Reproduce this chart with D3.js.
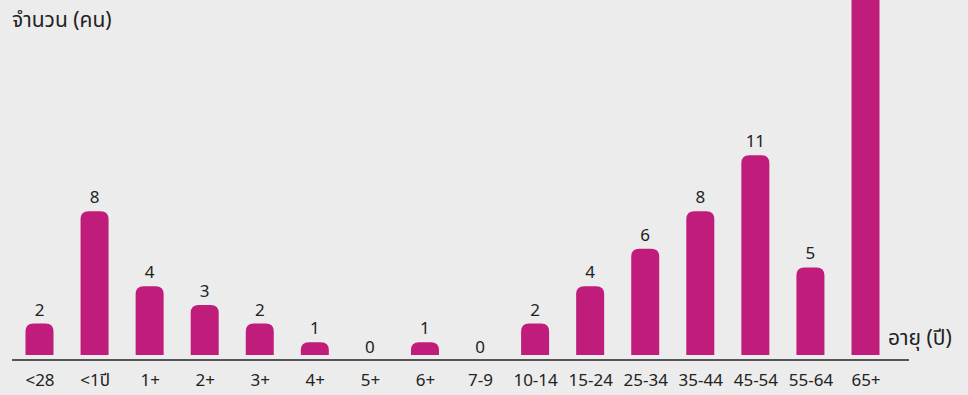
<!DOCTYPE html>
<html>
<head>
<meta charset="utf-8">
<script src="https://cdn.jsdelivr.net/npm/d3@7"></script>
<style>
  body { margin: 0; background: #ebeceb; }
  svg { display: block; }
  text { font-family: "Noto Sans Thai", "Noto Sans", "DejaVu Sans", sans-serif; fill: #222; }
</style>
</head>
<body>
<div id="chart"></div>
<script>
const categories = ["<28", "<1ปี", "1+", "2+", "3+", "4+", "5+", "6+", "7-9", "10-14", "15-24", "25-34", "35-44", "45-54", "55-64", "65+"];
const counts = [2, 8, 4, 3, 2, 1, 0, 1, 0, 2, 4, 6, 8, 11, 5, 25];
const yTitle = "จำนวน (คน)";
const xTitle = "อายุ (ปี)";

const width = 968, height = 395;
const barW = 28, r = 8;
const barBottom = 355;

const svg = d3.select("#chart").append("svg")
    .attr("width", width)
    .attr("height", height);

const x = d3.scalePoint()
    .domain(categories)
    .range([39.5, 865.5]);

const y = d3.scaleLinear()
    .domain([0, 19.3])
    .range([361, 0]);

function barPath(cx, top) {
    const x0 = cx - barW / 2, x1 = cx + barW / 2;
    const rr = Math.min(r, (barBottom - top));
    return `M${x0},${barBottom} L${x0},${top + rr} Q${x0},${top} ${x0 + rr},${top} ` +
           `L${x1 - rr},${top} Q${x1},${top} ${x1},${top + rr} L${x1},${barBottom} Z`;
}

const data = categories.map((c, i) => ({ c, v: counts[i] }));

svg.append("g").selectAll("path")
    .data(data.filter(d => d.v > 0))
    .enter()
    .append("path")
    .attr("d", d => barPath(x(d.c), y(d.v)))
    .attr("fill", "#c01c7b");

// value labels (the one for the tallest bar falls off the top, as in the original)
svg.append("g").selectAll("text")
    .data(data.filter(d => y(d.v) - 8 > 20))
    .enter()
    .append("text")
    .attr("x", d => x(d.c))
    .attr("y", d => y(d.v) - 8)
    .attr("text-anchor", "middle")
    .attr("font-size", 17)
    .text(d => d.v);

// axis line
svg.append("line")
    .attr("x1", 12).attr("x2", 909)
    .attr("y1", 360).attr("y2", 360)
    .attr("stroke", "#555")
    .attr("stroke-width", 2);

const xAxis = svg.append("g")
    .attr("transform", "translate(0,386)")
    .call(d3.axisBottom(x).tickSize(0).tickPadding(0));
xAxis.select(".domain").remove();
xAxis.attr("font-family", null);
xAxis.selectAll("text")
    .attr("font-size", 17)
    .attr("fill", "#222")
    .attr("dy", 0);

svg.append("text")
    .attr("x", 12).attr("y", 27)
    .attr("font-size", 21)
    .text(yTitle);

svg.append("text")
    .attr("x", 888).attr("y", 345)
    .attr("font-size", 21)
    .text(xTitle);
</script>
</body>
</html>
